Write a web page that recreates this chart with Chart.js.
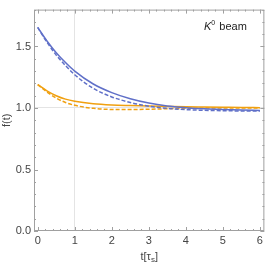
<!DOCTYPE html>
<html lang="en">
<head>
<meta charset="UTF-8">
<title>K0 beam f(t)</title>
<script src="https://cdn.jsdelivr.net/npm/chart.js"></script>
<style>
  html, body { margin: 0; padding: 0; background: #fff; }
  #wrap { width: 266px; height: 265px; }
</style>
</head>
<body>
<div id="wrap"><canvas id="myChart"></canvas></div>
<script>
// time in units of tau_S
const times = [0, 0.25, 0.5, 0.75, 1, 1.5, 2, 2.5, 3, 3.5, 4, 4.5, 5, 5.5, 6];
const blueSolid  = [1.655, 1.545, 1.45, 1.37, 1.30, 1.195, 1.125, 1.075, 1.04, 1.017, 1.003, 0.993, 0.987, 0.983, 0.98];
const blueDashed = [1.655, 1.535, 1.43, 1.345, 1.27, 1.16, 1.09, 1.045, 1.015, 0.997, 0.987, 0.981, 0.978, 0.976, 0.975];
const orangeSolid  = [1.19, 1.14, 1.10, 1.072, 1.055, 1.035, 1.025, 1.02, 1.016, 1.013, 1.01, 1.008, 1.006, 1.004, 1.003];
const orangeDashed = [1.19, 1.13, 1.08, 1.045, 1.022, 0.997, 0.988, 0.987, 0.99, 0.994, 0.997, 0.999, 1.0, 1.0, 1.0];

const xTicks = [0, 1, 2, 3, 4, 5, 6];
const yTicks = [0, 0.5, 1, 1.5];

const blue = '#6070c8';
const orange = '#f0a010';

function pts(ys) {
  return times.map((t, i) => ({ x: t, y: ys[i] }));
}

// frame with inward ticks on all four sides, plus hand-set text bits
const framePlugin = {
  id: 'frame',
  afterDraw(chart) {
    const { ctx, chartArea: a, scales: { x, y } } = chart;
    ctx.save();
    ctx.strokeStyle = '#a0a0a0';
    ctx.lineWidth = 1;
    ctx.strokeRect(a.left + 0.5, a.top + 0.5, a.right - a.left - 1, a.bottom - a.top - 1);
    ctx.beginPath();
    for (let v = 0; v <= 6.001; v += 0.2) {
      const px = Math.round(x.getPixelForValue(v)) + 0.5;
      const major = Math.abs(v - Math.round(v)) < 0.01;
      const len = major ? 4 : 2;
      ctx.moveTo(px, a.bottom); ctx.lineTo(px, a.bottom - len);
      ctx.moveTo(px, a.top); ctx.lineTo(px, a.top + len);
    }
    for (let v = 0; v <= 1.8001; v += 0.1) {
      const py = Math.round(y.getPixelForValue(v)) + 0.5;
      const major = Math.abs(v * 2 - Math.round(v * 2)) < 0.01;
      const len = major ? 4 : 2;
      ctx.moveTo(a.left, py); ctx.lineTo(a.left + len, py);
      ctx.moveTo(a.right, py); ctx.lineTo(a.right - len, py);
    }
    ctx.stroke();

    ctx.fillStyle = '#444';
    ctx.textBaseline = 'alphabetic';
    // x axis title t[tau_s]
    const cx = (a.left + a.right) / 2;
    const p1 = 't[τ', p3 = ']';
    ctx.font = '11px "Liberation Sans", Arial, sans-serif';
    const w1 = ctx.measureText(p1).width;
    ctx.font = '8px "Liberation Sans", Arial, sans-serif';
    const w2 = ctx.measureText('s').width;
    ctx.font = '11px "Liberation Sans", Arial, sans-serif';
    const w3 = ctx.measureText(p3).width;
    const sx = cx - (w1 + w2 + w3) / 2;
    const by = 260;
    ctx.textAlign = 'left';
    ctx.fillText(p1, sx, by);
    ctx.font = '8px "Liberation Sans", Arial, sans-serif';
    ctx.fillText('s', sx + w1, by + 2);
    ctx.font = '11px "Liberation Sans", Arial, sans-serif';
    ctx.fillText(p3, sx + w1 + w2, by);

    // label K^0 beam
    ctx.fillStyle = '#222';
    ctx.font = 'italic 11px "Liberation Sans", Arial, sans-serif';
    const kx = 204, ky = 30;
    ctx.fillText('K', kx, ky);
    const wk = ctx.measureText('K').width;
    ctx.font = '7px "Liberation Sans", Arial, sans-serif';
    ctx.fillText('0', kx + wk, ky - 5);
    ctx.font = '11px "Liberation Sans", Arial, sans-serif';
    ctx.fillText('beam', kx + wk + 8, ky);
    ctx.restore();
  }
};

const ctx = document.getElementById('myChart').getContext('2d');
new Chart(ctx, {
  type: 'line',
  data: {
    datasets: [
      { data: pts(blueSolid), borderColor: blue, borderWidth: 1.5 },
      { data: pts(blueDashed), borderColor: blue, borderWidth: 1.5, borderDash: [4, 2] },
      { data: pts(orangeSolid), borderColor: orange, borderWidth: 1.5 },
      { data: pts(orangeDashed), borderColor: orange, borderWidth: 1.5, borderDash: [4, 2] }
    ]
  },
  options: {
    responsive: true,
    maintainAspectRatio: false,
    animation: false,
    layout: { padding: { top: 0, right: 1, bottom: 0, left: 0 } },
    elements: {
      point: { radius: 0 },
      line: { cubicInterpolationMode: 'monotone', fill: false }
    },
    plugins: { legend: { display: false }, tooltip: { enabled: false } },
    scales: {
      x: {
        type: 'linear',
        min: -0.1,
        max: 6.12,
        afterBuildTicks: s => { s.ticks = xTicks.map(v => ({ value: v })); },
        afterFit: s => { s.height = 34; },
        border: { display: false },
        grid: {
          drawTicks: false,
          color: c => (c.tick && c.tick.value === 1 ? '#e4e4e4' : 'transparent')
        },
        ticks: {
          padding: 3,
          color: '#444',
          font: { family: '"Liberation Sans", Arial, sans-serif', size: 11 },
          maxRotation: 0
        }
      },
      y: {
        min: 0,
        max: 1.8,
        afterBuildTicks: s => { s.ticks = yTicks.map(v => ({ value: v })); },
        afterFit: s => { s.width = 34; },
        border: { display: false },
        grid: {
          drawTicks: false,
          color: c => (c.tick && c.tick.value === 1 ? '#e4e4e4' : 'transparent')
        },
        title: {
          display: true,
          text: 'f(t)',
          color: '#444',
          padding: { top: 0, bottom: 0 },
          font: { family: '"Liberation Sans", Arial, sans-serif', size: 11 }
        },
        ticks: {
          padding: 3,
          color: '#444',
          font: { family: '"Liberation Sans", Arial, sans-serif', size: 11 },
          callback: v => Number(v).toFixed(1)
        }
      }
    }
  },
  plugins: [framePlugin]
});
</script>
</body>
</html>
